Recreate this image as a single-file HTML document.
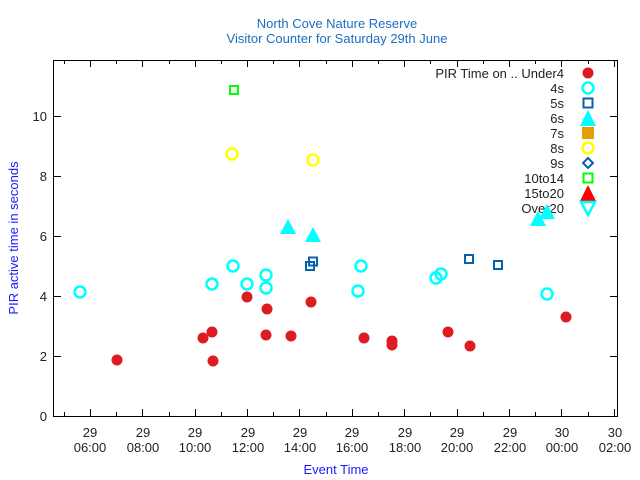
<!DOCTYPE html>
<html><head><meta charset="utf-8"><style>
body{margin:0;background:#fff}
svg{display:block;font-family:"Liberation Sans",sans-serif}
</style></head><body>
<svg width="640" height="480" viewBox="0 0 640 480">
<rect width="640" height="480" fill="#fff"/>
<text x="337" y="28" font-size="13" fill="#1a6fc0" text-anchor="middle">North Cove Nature Reserve</text>
<text x="337" y="43" font-size="13" fill="#1a6fc0" text-anchor="middle">Visitor Counter for Saturday 29th June</text>
<rect x="53.5" y="60.5" width="564" height="356" fill="none" stroke="#000" stroke-width="1"/>
<g stroke="#000" stroke-width="1">
<path d="M54 356.5h7M54 296.5h7M54 236.5h7M54 176.5h7M54 116.5h7M617 356.5h-7M617 296.5h-7M617 236.5h-7M617 176.5h-7M617 116.5h-7"/>
<path d="M90.5 416v-7M142.5 416v-7M195.5 416v-7M247.5 416v-7M299.5 416v-7M352.5 416v-7M404.5 416v-7M457.5 416v-7M509.5 416v-7M561.5 416v-7M614.5 416v-7
M90.5 60v7M142.5 60v7M195.5 60v7M247.5 60v7M299.5 60v7M352.5 60v7M404.5 60v7M457.5 60v7M509.5 60v7M561.5 60v7M614.5 60v7
M64.5 416v-4M116.5 416v-4M169.5 416v-4M221.5 416v-4M273.5 416v-4M326.5 416v-4M378.5 416v-4M430.5 416v-4M483.5 416v-4M535.5 416v-4M588.5 416v-4
M64.5 60v4M116.5 60v4M169.5 60v4M221.5 60v4M273.5 60v4M326.5 60v4M378.5 60v4M430.5 60v4M483.5 60v4M535.5 60v4M588.5 60v4"/>
</g>
<g font-size="13" fill="#222" text-anchor="end">
<text x="47" y="421">0</text><text x="47" y="361">2</text><text x="47" y="301">4</text><text x="47" y="241">6</text><text x="47" y="181">8</text><text x="47" y="121">10</text>
</g>
<g font-size="13" fill="#222" text-anchor="middle">
<text x="90" y="437">29</text><text x="90" y="452">06:00</text>
<text x="143" y="437">29</text><text x="143" y="452">08:00</text>
<text x="195" y="437">29</text><text x="195" y="452">10:00</text>
<text x="248" y="437">29</text><text x="248" y="452">12:00</text>
<text x="300" y="437">29</text><text x="300" y="452">14:00</text>
<text x="352" y="437">29</text><text x="352" y="452">16:00</text>
<text x="405" y="437">29</text><text x="405" y="452">18:00</text>
<text x="457" y="437">29</text><text x="457" y="452">20:00</text>
<text x="510" y="437">29</text><text x="510" y="452">22:00</text>
<text x="562" y="437">30</text><text x="562" y="452">00:00</text>
<text x="615" y="437">30</text><text x="615" y="452">02:00</text>
</g>
<text x="336" y="474" font-size="13" fill="#1a1aff" text-anchor="middle">Event Time</text>
<text transform="translate(18,238) rotate(-90)" font-size="13" fill="#1a1aff" text-anchor="middle">PIR active time in seconds</text>
<!-- legend -->
<g font-size="13" fill="#222" text-anchor="end">
<text x="564" y="78">PIR Time on .. Under4</text><text x="564" y="93">4s</text><text x="564" y="108">5s</text><text x="564" y="123">6s</text><text x="564" y="138">7s</text><text x="564" y="153">8s</text><text x="564" y="168">9s</text><text x="564" y="183">10to14</text><text x="564" y="198">15to20</text><text x="564" y="213">Over20</text>
</g>
<circle cx="588" cy="73" r="5.5" fill="#dd1c22"/>
<circle cx="588" cy="88" r="5.5" fill="none" stroke="#00ffff" stroke-width="2.5"/>
<rect x="583.5" y="98.5" width="9" height="9" fill="none" stroke="#0860b0" stroke-width="2"/>
<polygon points="588,110 596,126 580,126" fill="#00ffff"/>
<rect x="582" y="127" width="12" height="12" fill="#e69f00"/>
<circle cx="588" cy="148" r="5.5" fill="none" stroke="#ffff00" stroke-width="2.5"/>
<polygon points="588,158 593,163 588,168 583,163" fill="none" stroke="#0860b0" stroke-width="2"/>
<rect x="583.5" y="173.5" width="9" height="9" fill="none" stroke="#00ff00" stroke-width="2"/>
<polygon points="588,185 596,201 580,201" fill="#ff0000"/>
<polygon points="581,202 595,202 588,215" fill="none" stroke="#00ffff" stroke-width="2.5"/>
<!-- data -->
<g fill="#dd1c22">
<circle cx="117" cy="360" r="5.5"/><circle cx="203" cy="338" r="5.5"/><circle cx="212" cy="332" r="5.5"/><circle cx="213" cy="361" r="5.5"/><circle cx="247" cy="297" r="5.5"/><circle cx="267" cy="309" r="5.5"/><circle cx="266" cy="335" r="5.5"/><circle cx="291" cy="336" r="5.5"/><circle cx="311" cy="302" r="5.5"/><circle cx="364" cy="338" r="5.5"/><circle cx="392" cy="341" r="5.5"/><circle cx="392" cy="345" r="5.5"/><circle cx="448" cy="332" r="5.5"/><circle cx="470" cy="346" r="5.5"/><circle cx="566" cy="317" r="5.5"/>
</g>
<g fill="none" stroke="#00ffff" stroke-width="2.5">
<circle cx="80" cy="292" r="5.5"/><circle cx="212" cy="284" r="5.5"/><circle cx="233" cy="266" r="5.5"/><circle cx="247" cy="284" r="5.5"/><circle cx="266" cy="275" r="5.5"/><circle cx="266" cy="288" r="5.5"/><circle cx="358" cy="291" r="5.5"/><circle cx="361" cy="266" r="5.5"/><circle cx="436" cy="278" r="5.5"/><circle cx="441" cy="274" r="5.5"/><circle cx="547" cy="294" r="5.5"/>
</g>
<g fill="none" stroke="#0860b0" stroke-width="2">
<rect x="306" y="262" width="8" height="8"/><rect x="309" y="257.5" width="8" height="8"/><rect x="465" y="255" width="8" height="8"/><rect x="494" y="261" width="8" height="8"/>
</g>
<g fill="#00ffff">
<polygon points="288,219 296,234 280,234"/><polygon points="313,227 321,242 305,242"/><polygon points="538,211 546,226 530,226"/><polygon points="547,204 555,219 539,219"/>
</g>
<g fill="none" stroke="#ffff00" stroke-width="2.5">
<circle cx="232" cy="154" r="5.5"/><circle cx="313" cy="160" r="5.5"/>
</g>
<rect x="230" y="86" width="8" height="8" fill="none" stroke="#00ff00" stroke-width="2"/>
</svg>
</body></html>
